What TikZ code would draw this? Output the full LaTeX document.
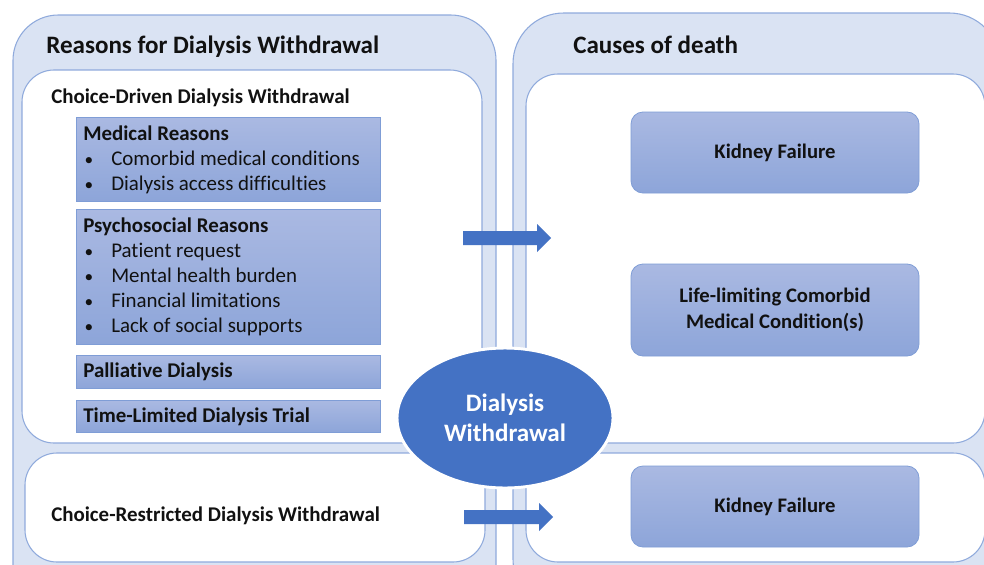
\documentclass[tikz,border=0pt]{standalone}
\usepackage{fontspec}
\setmainfont{Carlito}[Ligatures=NoCommon]
\usetikzlibrary{shapes.geometric,fit}
\definecolor{panel}{HTML}{DAE3F3}
\definecolor{edge}{HTML}{8FAADC}
\definecolor{dblue}{HTML}{4472C4}
\definecolor{btop}{HTML}{AAB9E2}
\definecolor{bbot}{HTML}{8DA5D9}
\definecolor{bedge}{HTML}{7F9DD6}
\definecolor{ink}{HTML}{111111}
\tikzset{
  panelbox/.style={draw=edge, fill=panel, rounded corners=#1, line width=0.8pt, inner sep=0pt},
  panelbox/.default=34pt,
  whitebox/.style={draw=edge, fill=white, rounded corners=#1, line width=0.8pt, inner sep=0pt},
  whitebox/.default=24pt,
  reasonbox/.style={draw=bedge, top color=btop, bottom color=bbot, inner sep=0pt, line width=0.6pt},
  causebox/.style={reasonbox, rounded corners=9pt},
  causetxt/.style={text=ink, font=\fontsize{15.5}{19.5}\selectfont\bfseries, align=center},
  titletxt/.style={anchor=base west, inner sep=0pt, text=ink, font=\fontsize{18.8}{22}\selectfont\bfseries},
  headtxt/.style={anchor=base west, inner sep=0pt, text=ink, font=\fontsize{15.7}{19}\selectfont\bfseries},
  itemtxt/.style={anchor=base west, inner sep=0pt, text=ink, font=\fontsize{15.7}{19}\selectfont},
  bullettxt/.style={anchor=base, inner sep=0pt, text=ink, font=\fontsize{13}{18}\selectfont},
  arrowfill/.style={fill=dblue},
}
\begin{document}
\begin{tikzpicture}[x=0.75pt,y=-0.75pt]
\useasboundingbox (0,0) rectangle (984,564);
\clip (0,0) rectangle (984,564);
% outer panels
\node[panelbox=34pt, fit={(13,15) (496,610)}] (lp) {};
\node[panelbox=38pt, fit={(513,13) (1000,610)}] (rp) {};
% inner white panels
\node[whitebox=24pt, fit={(22,70) (482,443)}] (lw1) {};
\node[whitebox=24pt, fit={(25,453) (485,562)}] (lw2) {};
\node[whitebox=24pt, fit={(526,74) (985,443)}] (rw1) {};
\node[whitebox=24pt, fit={(526,453) (985,562)}] (rw2) {};
% titles
\node[titletxt] (t1) at (46,53) {Reasons for Dialysis Withdrawal};
\node[titletxt] (t2) at (573,53) {Causes of death};
\node[headtxt] (h1) at (51,103) {Choice-Driven Dialysis Withdrawal};
\node[headtxt] (h2) at (51,521) {Choice-Restricted Dialysis Withdrawal};
% reason boxes
\node[reasonbox, fit={(76,117) (380,201)}] (med) {};
\node[reasonbox, fit={(76,209) (380,344)}] (psy) {};
\node[reasonbox, fit={(76,355) (380,388)}] (pal) {};
\node[reasonbox, fit={(76,400) (380,432)}] (tld) {};
\node[headtxt] (medh) at (83,140) {Medical Reasons};
\node[bullettxt] (mb1) at (89,165) {•};
\node[itemtxt] (mi1) at (111,165) {Comorbid medical conditions};
\node[bullettxt] (mb2) at (89,190) {•};
\node[itemtxt] (mi2) at (111,190) {Dialysis access difficulties};
\node[headtxt] (psyh) at (83,232) {Psychosocial Reasons};
\node[bullettxt] (pb1) at (89,257) {•};
\node[itemtxt] (pi1) at (111,257) {Patient request};
\node[bullettxt] (pb2) at (89,282) {•};
\node[itemtxt] (pi2) at (111,282) {Mental health burden};
\node[bullettxt] (pb3) at (89,307) {•};
\node[itemtxt] (pi3) at (111,307) {Financial limitations};
\node[bullettxt] (pb4) at (89,332) {•};
\node[itemtxt] (pi4) at (111,332) {Lack of social supports};
\node[headtxt] (palh) at (83,377) {Palliative Dialysis};
\node[headtxt] (tldh) at (83,422) {Time-Limited Dialysis Trial};
% cause boxes
\node[causebox, fit={(631,112) (919,193)}] (kf1) {};
\node[causetxt] (kf1t) at (kf1.center) {Kidney Failure};
\node[causebox, fit={(631,264) (919,356)}] (llc) {};
\node[causetxt] (llct) at (llc.center) {Life-limiting Comorbid\\Medical Condition(s)};
\node[causebox, fit={(631,466) (919,547)}] (kf2) {};
\node[causetxt] (kf2t) at (kf2.center) {Kidney Failure};
% arrows
\coordinate (a1) at (463,238);
\coordinate (a2) at (464,517);
\fill[arrowfill] (a1) ++(0,-7) -- ++(74,0) -- ++(0,-7) -- ++(14,14) -- ++(-14,14) -- ++(0,-7) -- ++(-74,0) -- cycle;
\fill[arrowfill] (a2) ++(0,-7) -- ++(75,0) -- ++(0,-7) -- ++(14,14) -- ++(-14,14) -- ++(0,-7) -- ++(-75,0) -- cycle;
% ellipse
\node[ellipse, fill=dblue, draw=white, line width=2.2pt, minimum width=162pt, minimum height=105pt, inner sep=0pt,
      text=white, font=\fontsize{18.8}{22.5}\selectfont\bfseries, align=center] (dw) at (505,418) {Dialysis\\Withdrawal};
\end{tikzpicture}
\end{document}
